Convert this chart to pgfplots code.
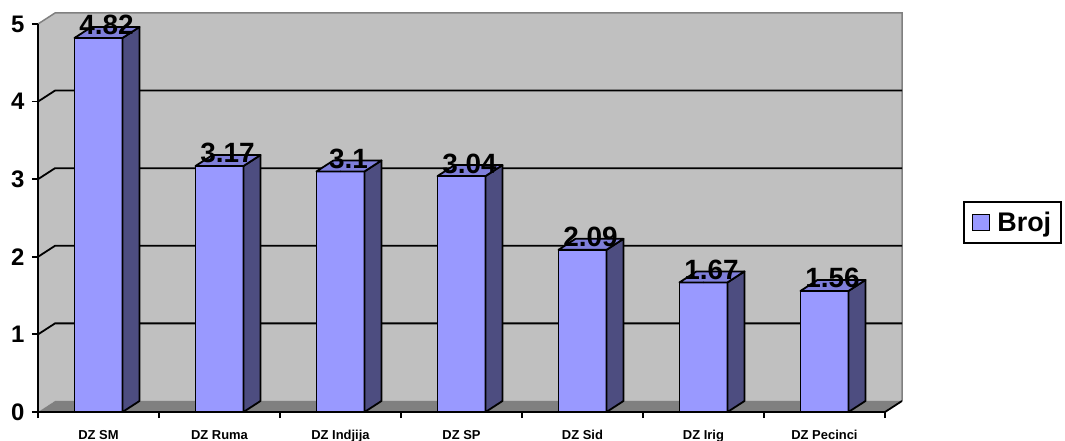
\documentclass[border=0pt]{standalone}
\usepackage{fontspec}
\setmainfont{Liberation Sans}
\usepackage{pgfplots}
\pgfplotsset{compat=1.18}
\definecolor{barfront}{HTML}{9999FF}
\definecolor{barside}{HTML}{4D4D80}
\definecolor{bartop}{HTML}{7F7FDA}
\definecolor{wall}{HTML}{C0C0C0}
\definecolor{floorc}{HTML}{808080}
\pgfplotstableread{
x y
0.5 4.82
1.5 3.17
2.5 3.1
3.5 3.04
4.5 2.09
5.5 1.67
6.5 1.56
}\datatable
\begin{document}
\begin{tikzpicture}
\useasboundingbox (0,0) rectangle (1065bp,441bp);
\begin{axis}[
  at={(38bp,29bp)}, anchor=south west,
  scale only axis, width=847bp, height=388bp,
  xmin=0, xmax=7, ymin=0, ymax=5,
  clip=false, axis on top,
  axis lines*=left,
  axis line style={line width=1.8bp, black, -},
  tick align=outside,
  ytick={0,...,5},
  major tick length=6bp,
  minor tick length=6bp,
  y tick style={line width=1.8bp, black},
  xtick={0.5,1.5,...,6.5},
  xticklabels={DZ SM, DZ Ruma, DZ Indjija, DZ SP, DZ Sid, DZ Irig, DZ Pecinci},
  major x tick style={draw=none},
  minor xtick={0,...,7},
  minor x tick style={line width=1.8bp, black},
  xticklabel style={font=\fontsize{13}{15}\selectfont\bfseries, yshift=-9bp},
  yticklabel style={font=\fontsize{24}{27}\selectfont\bfseries, xshift=-4bp},
  /pgf/number format/assume math mode=true,
  legend style={at={(1.092,0.543)}, anchor=north west, draw=black, line width=1.8bp,
    font=\fontsize{27}{30}\selectfont\bfseries, inner xsep=8bp, inner ysep=8bp},
  legend image code/.code={\draw[fill=barfront, draw=black, line width=1.4bp] (2bp,-8bp) rectangle (19bp,8bp); \path (24bp,0bp);},
]
% walls and floor
\fill[wall] (axis cs:0,0) -- ([shift={(17bp,11bp)}]axis cs:0,0) -- ([shift={(17bp,11bp)}]axis cs:0,5) -- (axis cs:0,5) -- cycle;
\fill[wall] ([shift={(17bp,11bp)}]axis cs:0,0) rectangle ([shift={(17bp,11bp)}]axis cs:7,5);
\fill[floorc] (axis cs:0,0) -- (axis cs:7,0) -- ([shift={(17bp,11bp)}]axis cs:7,0) -- ([shift={(17bp,11bp)}]axis cs:0,0) -- cycle;
\draw[floorc, line width=1.5bp] (axis cs:0,5) -- ([shift={(17bp,11bp)}]axis cs:0,5) -- ([shift={(17bp,11bp)}]axis cs:7,5) -- ([shift={(17bp,11bp)}]axis cs:7,0);
\draw[black, line width=1.8bp] ([shift={(17bp,11bp)}]axis cs:7,0) -- (axis cs:7,0);
\pgfplotsinvokeforeach{1,2,3,4}{
  \draw[black, line width=1.8bp] (axis cs:0,#1) -- ([shift={(17bp,11bp)}]axis cs:0,#1) -- ([shift={(17bp,11bp)}]axis cs:7,#1);
}
\addplot[ybar, bar width=48bp, fill=barfront, draw=black, line width=1.8bp] table[x=x,y=y] {\datatable};
\addlegendentry{Broj}
\addplot[scatter, only marks, mark=*, mark size=0.5bp, forget plot,
  point meta=\thisrow{y},
  visualization depends on={\thisrow{y} \as \rawy},
  scatter/@pre marker code/.code={%
    \pgfmathsetlengthmacro{\hh}{\rawy*77.6bp}%
    \filldraw[fill=barside, draw=black, line width=1.8bp, line join=round] (24bp,0bp) -- (41bp,11bp) -- (41bp,11bp-\hh) -- (24bp,-\hh) -- cycle;
    \filldraw[fill=bartop, draw=black, line width=1.8bp, line join=round] (-24bp,0bp) -- (24bp,0bp) -- (41bp,11bp) -- (-7bp,11bp) -- cycle;
    \scope[draw=black, fill=black]%
  },
  scatter/@post marker code/.code={\endscope},
] table[x=x,y=y] {\datatable};
\addplot[only marks, mark=*, mark size=0pt, forget plot,
  nodes near coords,
  nodes near coords style={font=\fontsize{28}{31}\selectfont\bfseries, anchor=south, inner sep=0pt, xshift=8bp, yshift=2.5bp, text=black},
] table[x=x,y=y] {\datatable};
\end{axis}
\end{tikzpicture}
\end{document}
